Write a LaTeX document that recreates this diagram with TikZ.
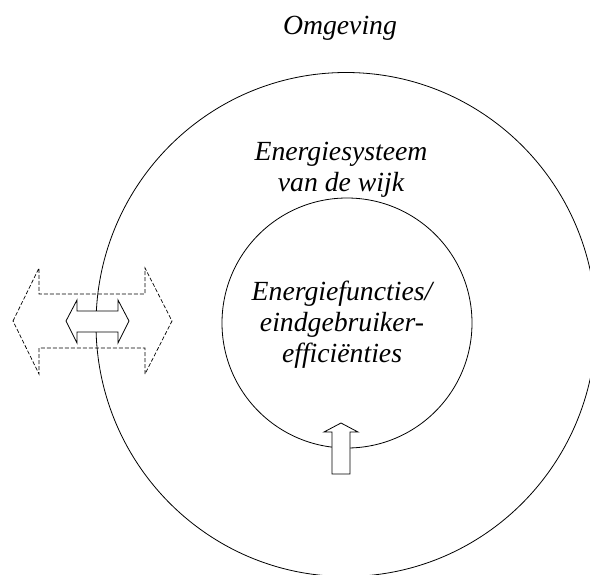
\documentclass[tikz,border=0pt]{standalone}
\usepackage{fontspec}
\setmainfont{Liberation Serif}[ItalicFont={Liberation Serif Italic}]
\usepackage{tikz}
\tikzset{
  tekst/.style={font=\fontsize{27.7}{31}\selectfont\itshape, align=center, inner sep=0pt},
  ring/.style={draw=black, line width=0.8pt},
  flowdash/.style={draw=black, line width=0.7pt, dash pattern=on 4pt off 2pt},
  flow/.style={draw=black, fill=white, line width=0.8pt},
}

\begin{document}
\begin{tikzpicture}[x=1pt, y=-1pt]
\clip (0,0) rectangle (590,574);
\fill[white] (0,0) rectangle (590,574);
\draw[ring] (346,324.5) ellipse [x radius=250, y radius=252]; % wijk
\draw[ring] (347,323) circle (125);                            % functies
% uitwisseling met de omgeving
\draw[flowdash] (13,321) -- (39,268) -- (39,294) -- (145,294) -- (145,268) -- (172,321)
  -- (145,374) -- (145,348) -- (39,348) -- (39,374) -- cycle;
\draw[flow] (66,321) -- (77,300) -- (77,311) -- (118,311) -- (118,300) -- (129,321)
  -- (118,343) -- (118,332) -- (77,332) -- (77,343) -- cycle;
% efficientie
\draw[flow] (341,423) -- (358,432) -- (350,432) -- (350,474) -- (332,474) -- (332,432)
  -- (324,432) -- cycle;
\node[tekst] (omgeving) at (340,28) {Omgeving};
\node[tekst] (systeem) at (341,170) {Energiesysteem\\van de wijk};
\node[tekst] (functies) at (342,325) {Energiefuncties/\\eindgebruiker-\\efficiënties};
\end{tikzpicture}
\end{document}
